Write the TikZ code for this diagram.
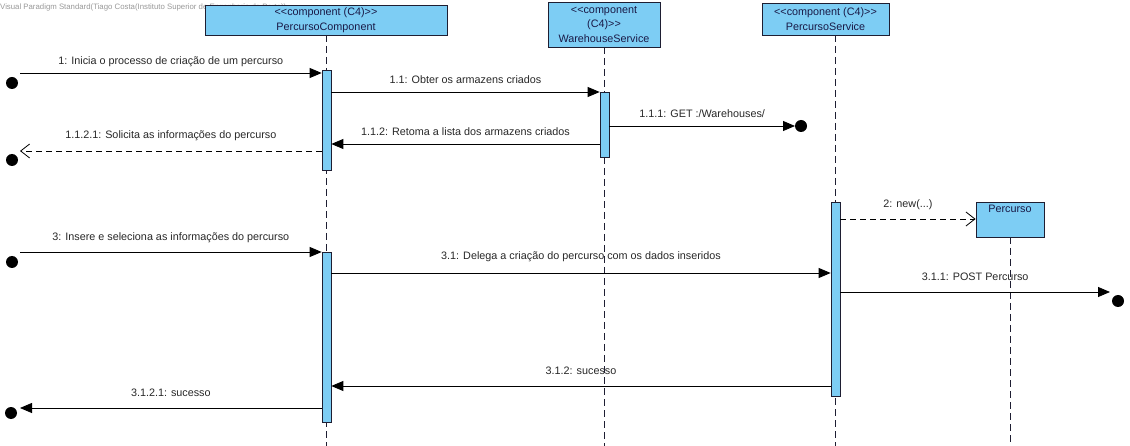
\documentclass[tikz,border=0pt]{standalone}
\usepackage{fontspec}
\setmainfont{Liberation Sans}[Ligatures=TeXOff]
\usetikzlibrary{arrows.meta}
\definecolor{vpblue}{RGB}{125,205,244}
\definecolor{vpedge}{RGB}{30,30,50}
\definecolor{vptext}{RGB}{25,25,70}
\definecolor{msgtext}{RGB}{40,40,40}
\tikzset{
  head/.style={draw=vpedge, fill=vpblue, line width=0.8pt, align=center, text=vptext,
               font=\fontsize{10.8}{14.5}\selectfont, inner sep=0pt},
  actbar/.style={draw=vpedge, fill=vpblue, line width=0.7pt, minimum width=9pt, inner sep=0pt},
  life/.style={draw=vpedge, line width=0.7pt, dash pattern=on 7pt off 4pt},
  msg/.style={draw=black, line width=0.8pt, -{Triangle[length=12pt,width=10pt]}},
  reply/.style={draw=black, line width=0.8pt, dash pattern=on 6pt off 4pt, -{Straight Barb[length=9pt,width=14pt,line width=0.8pt]}},
  lbl/.style={font=\fontsize{10.8}{12}\selectfont, text=msgtext, inner sep=0pt, anchor=base},
  enddot/.style={circle, fill=black, minimum size=12pt, inner sep=0pt},
}
\begin{document}
\begin{tikzpicture}[x=1pt, y=-1pt]
\useasboundingbox (0,0) rectangle (1130,446);
\fill[white] (0,0) rectangle (1130,446);

% watermark
\node[anchor=west, text=gray!80, font=\fontsize{7.8}{9}\selectfont, inner sep=0pt] (wm) at (0,7)
  {Visual Paradigm Standard(Tiago Costa(Instituto Superior de Engenharia do Porto))};

% lifelines
\draw[life] (326.5,35) -- (326.5,446);
\draw[life] (604.5,47) -- (604.5,446);
\draw[life] (835.5,35) -- (835.5,446);
\draw[life] (1010,237) -- (1010,446);

% lifeline heads
\node[head, minimum width=242pt, minimum height=30pt] (pc) at (326,20)
  {<<component (C4)>>\\PercursoComponent};
\node[head, minimum width=112pt, minimum height=45pt] (ws) at (604,24.5)
  {<<component\\(C4)>>\\WarehouseService};
\node[head, minimum width=127pt, minimum height=32pt] (ps) at (825.5,19)
  {<<component (C4)>>\\PercursoService};
\node[head, anchor=north, minimum width=68pt, minimum height=35pt, text depth=22pt] (pe) at (1010,202)
  {Percurso};

% activation bars
\node[actbar, minimum height=100pt] (a1) at (326.5,120) {};
\node[actbar, minimum height=170pt] (a2) at (326.5,337) {};
\node[actbar, minimum height=65pt]  (a3) at (604.5,124.5) {};
\node[actbar, minimum height=194pt] (a4) at (835.5,299) {};

% found / lost message end points
\node[enddot] (d1) at (12,83) {};
\node[enddot] (d2) at (12,160) {};
\node[enddot] (d3) at (12,262) {};
\node[enddot] (d4) at (11,413) {};
\node[enddot] (d5) at (801,126) {};
\node[enddot] (d6) at (1118,301) {};
\coordinate (s1) at (20,73);
\coordinate (s2) at (20,151);
\coordinate (s3) at (20,252);
\coordinate (s4) at (20,408);
\coordinate (s5) at (795,126);
\coordinate (s6) at (1110,292);

% messages
\draw[msg] (s1) -- node[lbl, above=6pt] {1: Inicia o processo de criação de um percurso} (s1 -| a1.west);
\draw[msg] (a1.east |- 0,92) -- node[lbl, above=8pt] {1.1: Obter os armazens criados} (a3.west |- 0,92);
\draw[msg] (a3.east |- s5) -- node[lbl, above=8pt] {1.1.1: GET :/Warehouses/} (s5);
\draw[msg] (a3.west |- 0,144) -- node[lbl, above=8pt] {1.1.2: Retoma a lista dos armazens criados} (a1.east |- 0,144);
\draw[reply] (a1.west |- s2) -- node[lbl, above=10pt] {1.1.2.1: Solicita as informações do percurso} (s2);
\draw[reply] (a4.east |- 0,219) -- node[lbl, above=9pt] {2: new(...)} (pe.west |- 0,219);
\draw[msg] (s3) -- node[lbl, above=9pt] {3: Insere e seleciona as informações do percurso} (s3 -| a2.west);
\draw[msg] (a2.east |- 0,273) -- node[lbl, above=11pt] {3.1: Delega a criação do percurso com os dados inseridos} (a4.west |- 0,273);
\draw[msg] (a4.east |- s6) -- node[lbl, above=10.5pt] {3.1.1: POST Percurso} (s6);
\draw[msg] (a4.west |- 0,386) -- node[lbl, above=11pt] {3.1.2: sucesso} (a2.east |- 0,386);
\draw[msg] (a2.west |- s4) -- node[lbl, above=11pt] {3.1.2.1: sucesso} (s4);
\end{tikzpicture}
\end{document}
